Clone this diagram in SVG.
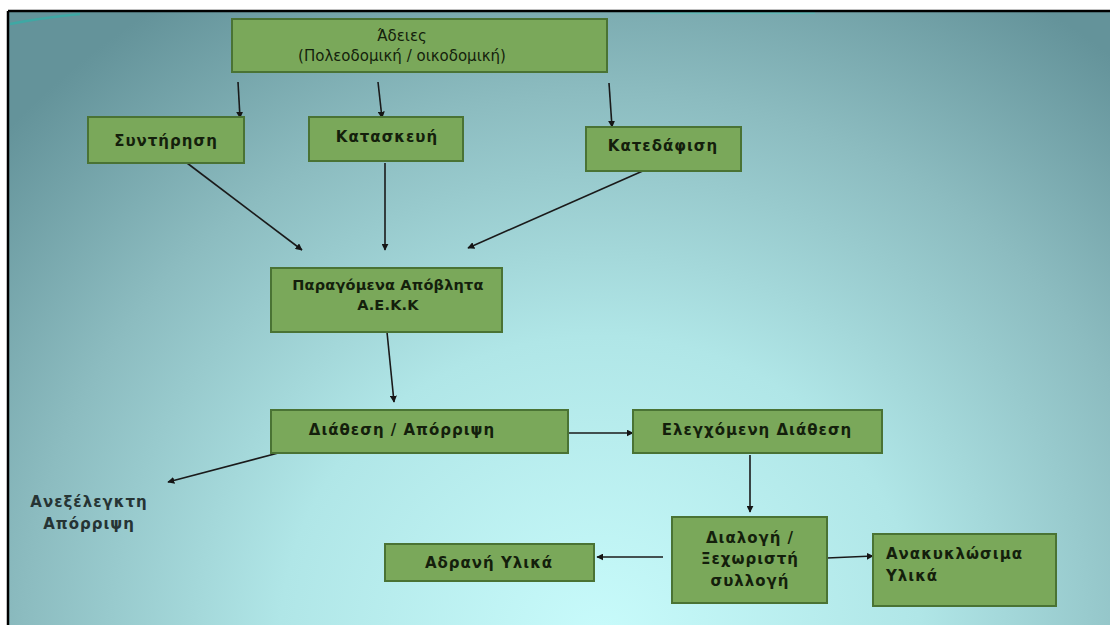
<svg xmlns="http://www.w3.org/2000/svg" width="1110" height="625" viewBox="0 0 1110 625">
<defs>
<radialGradient id="bg" gradientUnits="userSpaceOnUse" cx="600" cy="640" r="800" gradientTransform="translate(600 640) scale(1 0.95) translate(-600 -640)">
<stop offset="0" stop-color="#c8fbfb"/>
<stop offset="0.4" stop-color="#b0e6e7"/>
<stop offset="0.72" stop-color="#8cbcc0"/>
<stop offset="1" stop-color="#64939a"/>
</radialGradient>
<marker id="ah" viewBox="0 0 10 10" refX="9" refY="5" markerWidth="7" markerHeight="7" markerUnits="userSpaceOnUse" orient="auto">
<path d="M0,0 L10,5 L0,10 z" fill="#151515"/>
</marker>
<style>
.box{fill:#7aa85a;stroke:#4a7334;stroke-width:2}
.t{font-family:"DejaVu Sans","Verdana",sans-serif;font-size:15px;font-weight:bold;fill:#141f0c;text-anchor:middle;letter-spacing:1px}
.tn{font-family:"DejaVu Sans","Verdana",sans-serif;font-size:15px;fill:#141f0c;text-anchor:middle}
.tl{text-anchor:start}
.free{fill:#263434}
.c{stroke:#1a1a1a;stroke-width:1.6;fill:none;marker-end:url(#ah)}
</style>
</defs>
<rect x="0" y="0" width="1110" height="625" fill="#ffffff"/>
<rect x="9" y="12" width="1101" height="613" fill="url(#bg)"/>
<path d="M10,24 Q40,18 80,14" stroke="#2fb0a8" stroke-width="2.5" fill="none" opacity="0.7"/>
<path d="M650,13 L815,13" stroke="#4fc4bc" stroke-width="2" fill="none" opacity="0.5"/>
<path d="M8,11 L1110,11 M8,11 L8,625" stroke="#000" stroke-width="2.5" fill="none"/>

<g id="connectors">
<line class="c" x1="238" y1="82" x2="240" y2="118"/>
<line class="c" x1="378" y1="82" x2="382" y2="118"/>
<line class="c" x1="609" y1="83" x2="612" y2="127"/>
<line class="c" x1="187" y1="163" x2="302" y2="250"/>
<line class="c" x1="385" y1="163" x2="385" y2="250"/>
<line class="c" x1="645" y1="170" x2="468" y2="248"/>
<line class="c" x1="387" y1="332" x2="394" y2="402"/>
<line class="c" x1="282" y1="452" x2="168" y2="482"/>
<line class="c" x1="568" y1="433" x2="633" y2="433"/>
<line class="c" x1="750" y1="455" x2="750" y2="512"/>
<line class="c" x1="663" y1="557" x2="597" y2="557"/>
<line class="c" x1="827" y1="558" x2="873" y2="556"/>
</g>

<g id="adeies">
<rect class="box" x="232" y="19" width="375" height="53"/>
<text class="tn" x="402" y="41">Άδειες</text>
<text class="tn" x="402" y="61">(Πολεοδομική / οικοδομική)</text>
</g>
<g id="syntirisi">
<rect class="box" x="88" y="117" width="156" height="46"/>
<text class="t" x="166" y="146">Συντήρηση</text>
</g>
<g id="kataskevi">
<rect class="box" x="309" y="117" width="154" height="44"/>
<text class="t" x="387" y="142">Κατασκευή</text>
</g>
<g id="katedafisi">
<rect class="box" x="586" y="127" width="155" height="44"/>
<text class="t" x="663" y="151">Κατεδάφιση</text>
</g>
<g id="paragomena">
<rect class="box" x="271" y="268" width="231" height="64"/>
<text class="t" x="388" y="290" style="font-size:14.5px;letter-spacing:0.2px">Παραγόμενα Απόβλητα</text>
<text class="t" x="388" y="310" style="font-size:14.5px;letter-spacing:0.2px">Α.Ε.Κ.Κ</text>
</g>
<g id="diathesi">
<rect class="box" x="271" y="410" width="297" height="43"/>
<text class="t" x="402" y="435">Διάθεση / Απόρριψη</text>
</g>
<g id="elegxomeni">
<rect class="box" x="633" y="410" width="249" height="43"/>
<text class="t" x="757" y="435">Ελεγχόμενη Διάθεση</text>
</g>
<g id="dialogi">
<rect class="box" x="672" y="517" width="155" height="86"/>
<text class="t" x="750" y="543">Διαλογή /</text>
<text class="t" x="750" y="564">Ξεχωριστή</text>
<text class="t" x="750" y="586">συλλογή</text>
</g>
<g id="adrani">
<rect class="box" x="385" y="544" width="209" height="37"/>
<text class="t" x="489" y="568">Αδρανή Υλικά</text>
</g>
<g id="anakyklosima">
<rect class="box" x="873" y="534" width="183" height="72"/>
<text class="t tl" x="886" y="559">Ανακυκλώσιμα</text>
<text class="t tl" x="886" y="581">Υλικά</text>
</g>
<g id="anexelegkti">
<text class="t free" x="89" y="507">Ανεξέλεγκτη</text>
<text class="t free" x="89" y="529">Απόρριψη</text>
</g>
</svg>
